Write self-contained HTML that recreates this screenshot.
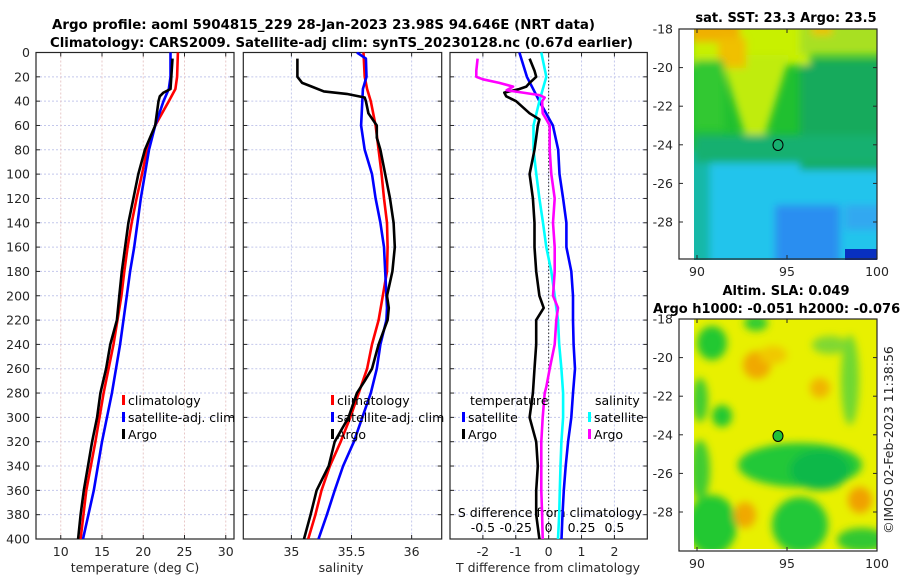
<!DOCTYPE html>
<html><head><meta charset="utf-8"><style>
html,body{margin:0;padding:0;background:#fff;}
svg{display:block;font-family:"DejaVu Sans","Liberation Sans",sans-serif;}
</style></head><body>
<svg id="fig" width="900" height="580" viewBox="0 0 900 580" xmlns="http://www.w3.org/2000/svg">
<defs>
<filter id="blur4" x="-50%" y="-50%" width="200%" height="200%"><feGaussianBlur stdDeviation="4"/></filter>
<filter id="blur3" x="-50%" y="-50%" width="200%" height="200%"><feGaussianBlur stdDeviation="3"/></filter>
<clipPath id="clipTop"><rect x="694" y="29" width="183" height="231"/></clipPath>
<clipPath id="clipBot"><rect x="694" y="319" width="183" height="230"/></clipPath>
<clipPath id="c1"><rect x="36" y="52" width="198" height="487"/></clipPath>
<clipPath id="c2"><rect x="243" y="52" width="199" height="487"/></clipPath>
<clipPath id="c3"><rect x="450" y="52" width="197" height="487"/></clipPath>
</defs>
<text x="52" y="29" font-size="13.5" font-weight="bold" fill="#000" textLength="543" lengthAdjust="spacingAndGlyphs">Argo profile: aoml 5904815_229 28-Jan-2023 23.98S 94.646E (NRT data)</text>
<text x="50" y="47" font-size="13.5" font-weight="bold" fill="#000" textLength="583" lengthAdjust="spacingAndGlyphs">Climatology: CARS2009. Satellite-adj clim: synTS_20230128.nc (0.67d earlier)</text>
<g id="plots"></g>
<!-- top map -->
<g clip-path="url(#clipTop)">
<rect x="694" y="29" width="183" height="231" fill="#20c030"/>
<g filter="url(#blur4)">
<rect x="680" y="160" width="210" height="110" fill="#22c4ec"/>
<rect x="680" y="150" width="30" height="120" fill="#18b8a8"/>
<rect x="800" y="60" width="90" height="110" fill="#12aa5c"/>
<rect x="694" y="135" width="190" height="28" fill="#14b070"/>
<rect x="775" y="205" width="65" height="60" fill="#2a8ef0"/>
<rect x="845" y="205" width="40" height="25" fill="#30a8f0"/>
<rect x="690" y="20" width="120" height="45" fill="#c8f000"/>
<rect x="800" y="20" width="90" height="35" fill="#a8e020"/>
<polygon points="720,55 790,55 765,135 745,135" fill="#c0ec10"/>
<rect x="690" y="20" width="50" height="22" fill="#f0b000"/>
<rect x="718" y="38" width="28" height="30" fill="#f0c000"/>
<rect x="812" y="25" width="20" height="10" fill="#f0c000"/>
<rect x="694" y="60" width="30" height="70" fill="#30c830"/>
</g>
<rect x="845" y="249" width="32" height="11" fill="#0830c0"/>
</g>
<ellipse cx="778" cy="145" rx="5" ry="5.5" fill="none" stroke="#000" stroke-width="1"/>
<!-- bottom map -->
<g clip-path="url(#clipBot)">
<rect x="694" y="319" width="183" height="230" fill="#e8f000"/>
<g filter="url(#blur4)">
<ellipse cx="712" cy="343" rx="15" ry="17" fill="#20c830"/>
<ellipse cx="756" cy="323" rx="12" ry="8" fill="#30cc30"/>
<ellipse cx="700" cy="400" rx="8" ry="22" fill="#40cc30"/>
<ellipse cx="722" cy="416" rx="10" ry="11" fill="#20c830"/>
<ellipse cx="800" cy="465" rx="62" ry="22" fill="#20c838"/>
<ellipse cx="820" cy="470" rx="30" ry="20" fill="#10b848"/>
<ellipse cx="712" cy="525" rx="25" ry="30" fill="#20c830"/>
<ellipse cx="700" cy="470" rx="10" ry="30" fill="#40cc30"/>
<ellipse cx="800" cy="525" rx="28" ry="28" fill="#20c838"/>
<ellipse cx="862" cy="540" rx="25" ry="12" fill="#30c830"/>
<ellipse cx="850" cy="380" rx="9" ry="45" fill="#70d830"/>
<ellipse cx="830" cy="345" rx="18" ry="9" fill="#80d830"/>
<ellipse cx="757" cy="365" rx="14" ry="14" fill="#f0a800"/>
<ellipse cx="820" cy="388" rx="10" ry="10" fill="#f0b400"/>
<ellipse cx="745" cy="515" rx="11" ry="13" fill="#f0a800"/>
<ellipse cx="860" cy="500" rx="12" ry="13" fill="#f0a000"/>
<ellipse cx="773" cy="355" rx="14" ry="9" fill="#f0c800"/>
</g>
</g>
<ellipse cx="778" cy="436" rx="5" ry="5.5" fill="#20c038" stroke="#000" stroke-width="1"/>
<g id="mapaxes"></g>
<text x="786" y="22" font-size="13" font-weight="bold" text-anchor="middle">sat. SST: 23.3 Argo: 23.5</text>
<text x="786" y="295" font-size="13" font-weight="bold" text-anchor="middle">Altim. SLA: 0.049</text>
<text x="653" y="313" font-size="13" font-weight="bold">Argo h1000: -0.051 h2000: -0.076</text>
<text transform="translate(893,440) rotate(-90)" font-size="12.5" text-anchor="middle" fill="#262626">©IMOS 02-Feb-2023 11:38:56</text>
</svg>
<script>
// ---- data ----
const depthsClim = [0,20,30,40,60,80,100,120,140,160,180,200,240,280,320,360,400];
const tempClim   = [24.2,24.1,23.9,23.1,21.45,20.45,19.85,19.2,18.6,18.1,17.7,17.35,16.4,15.2,14.2,13.1,12.4];
const tempSat    = [23.3,23.3,23.1,22.45,21.45,20.7,20.2,19.7,19.3,18.9,18.4,18.0,17.2,16.2,15.0,14.0,12.7];
const depthsArgoT = [5,30,33,36,40,60,80,100,120,140,160,180,200,220,240,260,280,300,320,340,360,380,400];
const tempArgo    = [23.55,23.3,22.45,22.0,21.85,21.45,20.2,19.4,18.8,18.2,17.8,17.4,17.1,16.8,16.0,15.5,14.8,14.4,13.8,13.3,12.8,12.4,12.1];
const depthsSal = [0,20,30,40,60,80,100,120,140,160,180,200,220,240,260,280,300,320,340,360,380,400];
const salClim   = [35.6,35.61,35.63,35.66,35.70,35.725,35.75,35.77,35.795,35.80,35.795,35.76,35.725,35.67,35.63,35.56,35.49,35.41,35.32,35.25,35.2,35.14];
const depthsSalSat = [0,5,20,30,40,60,80,100,120,140,160,180,200,210,220,240,260,280,300,320,340,360,380,400];
const salSat    = [35.545,35.62,35.625,35.595,35.59,35.58,35.61,35.67,35.70,35.74,35.77,35.78,35.79,35.795,35.79,35.74,35.71,35.66,35.59,35.52,35.43,35.36,35.295,35.225];
const depthsArgoS = [5,20,25,28,32,34,37,40,50,60,70,80,100,120,140,160,180,200,210,220,240,260,270,280,300,320,340,360,380,400];
const salArgo     = [35.05,35.05,35.09,35.17,35.27,35.46,35.61,35.62,35.64,35.71,35.71,35.74,35.78,35.82,35.85,35.86,35.84,35.795,35.81,35.80,35.725,35.67,35.61,35.545,35.475,35.36,35.31,35.21,35.16,35.105];
const depthsDiff = [0,20,40,60,80,100,120,140,160,180,200,220,240,260,280,300,320,340,360,380,400];
const tDiffSat   = [-0.89,-0.66,-0.28,0.13,0.29,0.33,0.44,0.54,0.54,0.69,0.74,0.74,0.76,0.80,0.74,0.69,0.59,0.52,0.46,0.42,0.39];
const sDiffSat   = [-0.056,-0.018,-0.07,-0.115,-0.115,-0.094,-0.07,-0.043,-0.018,0.02,0.046,0.071,0.08,0.097,0.11,0.11,0.097,0.09,0.085,0.08,0.071];
const depthsDiffArgoT = [5,15,20,25,28,30,33,36,40,50,55,60,70,80,100,120,140,160,180,200,210,220,240,260,280,300,320,340,360,380,400];
const tDiffArgo  = [-0.58,-0.43,-0.38,-0.58,-0.68,-0.89,-1.35,-1.29,-0.99,-0.58,-0.28,-0.33,-0.38,-0.43,-0.58,-0.48,-0.43,-0.43,-0.38,-0.28,-0.15,-0.38,-0.38,-0.43,-0.48,-0.58,-0.38,-0.33,-0.38,-0.38,-0.28];
const depthsDiffArgoS = [5,15,20,22,25,28,31,33,35,37,40,50,55,60,80,100,120,140,160,180,200,210,220,240,260,275,280,300,320,340,360,380,400];
const sDiffArgo  = [-0.54,-0.55,-0.55,-0.50,-0.375,-0.27,-0.32,-0.196,-0.07,-0.03,-0.05,-0.045,-0.018,0.008,0.008,0.02,0.046,0.033,0.046,0.046,0.033,0.071,0.058,0.046,0.008,-0.018,-0.03,-0.045,-0.056,-0.056,-0.056,-0.05,-0.045];
const depthTicks = [0,20,40,60,80,100,120,140,160,180,200,220,240,260,280,300,320,340,360,380,400];
const tempTicks = [10,15,20,25,30];
const salTicks = [35,35.5,36];
const salTickLabels = ['35','35.5','36'];
const tDiffTicks = [-2,-1,0,1,2];
const sDiffTicks = [-0.5,-0.25,0,0.25,0.5];
const sDiffTickLabels = ['-0.5','-0.25','0','0.25','0.5'];
const latTicks = [-18,-20,-22,-24,-26,-28];
const lonTicks = [90,95,100];

// ---- scales ----
const Y0=52.5, Y1=539;
const yD = d => Y0 + d*(Y1-Y0)/400;
const xT = t => 36 + (t-7)*(234-36)/24;
const xS = s => 243.3 + (s-34.6)*(441.7-243.3)/1.65;
const xTD = t => 450 + (t+3)*(647.3-450)/6;
const xSD = s => xTD(s*4);
const NS='http://www.w3.org/2000/svg';
const root=document.getElementById('plots');
function mk(tag,attrs,parent){const e=document.createElementNS(NS,tag);for(const k in attrs)e.setAttribute(k,attrs[k]);(parent||root).appendChild(e);return e;}
function txt(s,attrs,parent){const e=mk('text',attrs,parent);e.textContent=s;return e;}

const panels=[{x0:36,x1:234,clip:'c1',name:'temperature-panel'},{x0:243.3,x1:441.7,clip:'c2',name:'salinity-panel'},{x0:450,x1:647.3,clip:'c3',name:'difference-panel'}];
panels.forEach((p,i)=>{
  const g=mk('g',{});
  
  
  depthTicks.forEach(d=>{
    const l=mk('line',{x1:p.x0,x2:p.x1,y1:yD(d),y2:yD(d),stroke:'#c4c8ec','stroke-width':1,'stroke-dasharray':'2,2'},g);
    
    
    mk('line',{x1:p.x0,x2:p.x0+4,y1:yD(d),y2:yD(d),stroke:'#262626'},g);
    mk('line',{x1:p.x1-4,x2:p.x1,y1:yD(d),y2:yD(d),stroke:'#262626'},g);
  });
  const vt = i==0?tempTicks.map(xT):i==1?salTicks.map(xS):tDiffTicks.map(xTD);
  vt.forEach(x=>{
    const l=mk('line',{x1:x,x2:x,y1:Y0,y2:Y1,stroke:i==0?'#e8c8c8':'#c4c8ec','stroke-width':1,'stroke-dasharray':'2,2'},g);
    
    
    mk('line',{x1:x,x2:x,y1:Y1-4,y2:Y1,stroke:'#262626'},g);
    mk('line',{x1:x,x2:x,y1:Y0,y2:Y0+4,stroke:'#262626'},g);
  });
  const r=mk('rect',{x:p.x0,y:Y0,width:p.x1-p.x0,height:Y1-Y0,fill:'none',stroke:'#262626','stroke-width':1.2},g);
  
  
});
depthTicks.forEach(d=>{
  const t=txt(String(d),{x:30,y:yD(d)+4.5,'font-size':12.5,'text-anchor':'end',fill:'#262626'});
  
  
});
tempTicks.forEach(v=>{const t=txt(String(v),{x:xT(v),y:556,'font-size':12.5,'text-anchor':'middle',fill:'#262626'});
  
  });
salTicks.forEach((v,i)=>{const t=txt(salTickLabels[i],{x:xS(v),y:556,'font-size':12.5,'text-anchor':'middle',fill:'#262626'});
  
  });
tDiffTicks.forEach(v=>{const t=txt(String(v),{x:xTD(v),y:556,'font-size':12.5,'text-anchor':'middle',fill:'#262626'});
  
  });
sDiffTicks.forEach((v,i)=>{const t=txt(sDiffTickLabels[i],{x:xSD(v),y:532,'font-size':12.5,'text-anchor':'middle',fill:'#000'});
  
  });
let a;
a=txt('temperature (deg C)',{x:135,y:572,'font-size':12.5,'text-anchor':'middle',fill:'#262626'});


a=txt('salinity',{x:341,y:572,'font-size':12.5,'text-anchor':'middle',fill:'#262626'});


a=txt('T difference from climatology',{x:548,y:572,'font-size':12.5,'text-anchor':'middle',fill:'#262626'});


a=txt('S difference from climatology',{x:550,y:517,'font-size':12.5,'text-anchor':'middle',fill:'#000'});


a=mk('line',{x1:xTD(0),x2:xTD(0),y1:Y0,y2:Y1,stroke:'#333','stroke-width':1,'stroke-dasharray':'1.5,2'});



function series(xs,ds,sx,color,clip,name){
  const pts=xs.map((v,i)=>sx(v).toFixed(1)+','+yD(ds[i]).toFixed(1)).join(' ');
  const e=mk('polyline',{points:pts,fill:'none',stroke:color,'stroke-width':2.6,'stroke-linejoin':'round','clip-path':'url(#'+clip+')'});
  
  
}
series(tempClim,depthsClim,xT,'#ff0000','c1','temp-climatology-line');
series(tempSat,depthsClim,xT,'#0000ff','c1','temp-satellite-line');
series(tempArgo,depthsArgoT,xT,'#000000','c1','temp-argo-line');
series(salClim,depthsSal,xS,'#ff0000','c2','sal-climatology-line');
series(salSat,depthsSalSat,xS,'#0000ff','c2','sal-satellite-line');
series(salArgo,depthsArgoS,xS,'#000000','c2','sal-argo-line');
series(tDiffSat,depthsDiff,xTD,'#0000ff','c3','tdiff-satellite-line');
series(sDiffSat,depthsDiff,xSD,'#00ffff','c3','sdiff-satellite-line');
series(tDiffArgo,depthsDiffArgoT,xTD,'#000000','c3','tdiff-argo-line');
series(sDiffArgo,depthsDiffArgoS,xSD,'#ff00ff','c3','sdiff-argo-line');

function legend(x,y,color,label){
  const g=mk('g',{});
  
  
  mk('rect',{x:x,y:y-10,width:3,height:10,fill:color},g);
  txt(label,{x:x+6,y:y,'font-size':12.5,fill:'#000'},g);
}
legend(122,405,'#ff0000','climatology');
legend(122,422,'#0000ff','satellite-adj. clim');
legend(122,439,'#000000','Argo');
legend(331,405,'#ff0000','climatology');
legend(331,422,'#0000ff','satellite-adj. clim');
legend(331,439,'#000000','Argo');
a=txt('temperature',{x:470,y:405,'font-size':12.5,fill:'#000'});


a=txt('salinity',{x:595,y:405,'font-size':12.5,fill:'#000'});


legend(462,422,'#0000ff','satellite');
legend(462,439,'#000000','Argo');
legend(588,422,'#00ffff','satellite');
legend(588,439,'#ff00ff','Argo');

// map axes
const mg=document.getElementById('mapaxes');
[[29,259],[319,551]].forEach((m,k)=>{
  const top=m[0],bot=m[1];
  const yL=lat=> top + (-18-lat)*19.3;
  const xL=lon=> 697 + (lon-90)*18;
  const r=mk('rect',{x:679,y:top,width:198,height:bot-top,fill:'none',stroke:'#262626','stroke-width':1.2},mg);
  
  
  latTicks.forEach(l=>{
    const y=yL(l);
    mk('line',{x1:679,x2:683,y1:y,y2:y,stroke:'#262626'},mg);
    mk('line',{x1:873,x2:877,y1:y,y2:y,stroke:'#262626'},mg);
    const t=txt(String(l),{x:673,y:y+4.5,'font-size':12.5,'text-anchor':'end',fill:'#262626'},mg);
    
    
  });
  lonTicks.forEach(l=>{
    const x=xL(l);
    mk('line',{x1:x,x2:x,y1:bot-4,y2:bot,stroke:'#262626'},mg);
    mk('line',{x1:x,x2:x,y1:top,y2:top+4,stroke:'#262626'},mg);
    const t=txt(String(l),{x:x,y:bot+17,'font-size':12.5,'text-anchor':'middle',fill:'#262626'},mg);
    
    
  });
});
</script>
</body></html>
